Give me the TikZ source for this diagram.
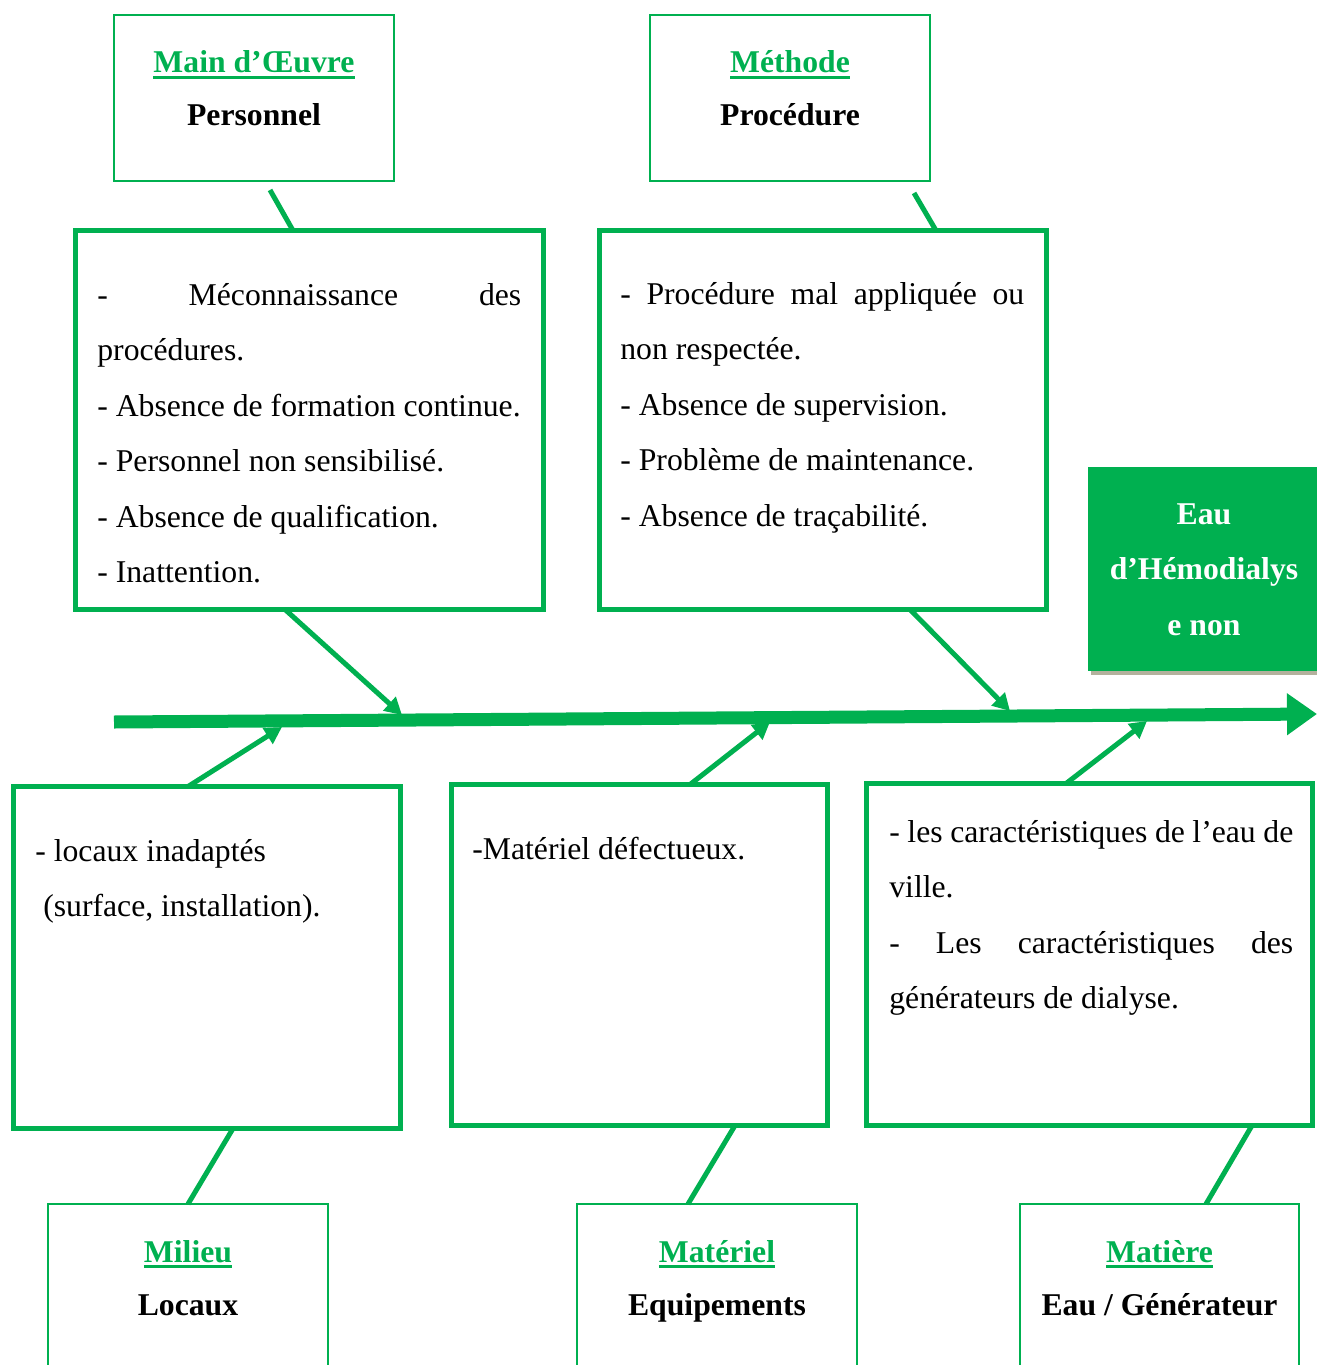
\documentclass[tikz,border=0pt]{standalone}
\usepackage{fontspec}
\setmainfont{Liberation Serif}
\usetikzlibrary{arrows.meta,calc}
\definecolor{gr}{HTML}{00B050}
\definecolor{shd}{HTML}{B3B19D}
\hyphenpenalty=10000
\exhyphenpenalty=10000
\newcommand\fs{\fontsize{18.04pt}{31.6pt}\selectfont}
\newcommand\gul[1]{\setbox0\hbox{#1}\rlap{\rule[-3.4pt]{\wd0}{1.5pt}}\box0}
\newcommand\jline[2]{\makebox[#1][s]{#2}}
\begin{document}
\begin{tikzpicture}[x=0.02cm,y=-0.02cm,
  catbox/.style={draw=gr,line width=1.1pt,inner sep=0,outer sep=0,minimum width=5.6cm,minimum height=3.32cm},
  causebox/.style={draw=gr,line width=2.85pt,inner sep=0,outer sep=0},
  ttl/.style={anchor=base,inner sep=0,text=gr,font=\fs\bfseries},
  sub/.style={anchor=base,inner sep=0,font=\fs\bfseries},
  body/.style={anchor=base west,inner sep=0,font=\fs,align=flush left,text width=10cm},
  conn/.style={draw=gr,line width=2.85pt},
  arr/.style={conn,-{Triangle[length=0.34cm,width=0.36cm]}}]
\useasboundingbox (0,0) rectangle (1317,1365);
\clip (0,0) rectangle (1317,1365);

% category boxes (top)
\node[catbox] (mo) at (254,98) {};
\node[catbox] (me) at (790,98) {};
\node[ttl] (mot) at (254,73) {\gul{Main d’Œuvre}};
\node[sub] (mos) at (254,126) {Personnel};
\node[ttl] (met) at (790,73) {\gul{Méthode}};
\node[sub] (mes) at (790,126) {Procédure};

% cause boxes
\node[causebox,minimum width=9.36cm,minimum height=7.58cm] (c1) at (309.5,420) {};
\node[causebox,minimum width=8.94cm,minimum height=7.58cm] (c2) at (823,420) {};
\node[causebox,minimum width=7.74cm,minimum height=6.84cm] (c3) at (207,957.5) {};
\node[causebox,minimum width=7.52cm,minimum height=6.82cm] (c4) at (639.5,955) {};
\node[causebox,minimum width=8.92cm,minimum height=6.84cm] (c5) at (1089.5,954.5) {};

\node[body] (tx1) at (97,305) {%
\jline{8.48cm}{- Méconnaissance des}\\
procédures.\\
- Absence de formation continue.\\
- Personnel non sensibilisé.\\
- Absence de qualification.\\
- Inattention.};
\node[body] (tx2) at (620,304) {%
\jline{8.08cm}{- Procédure mal appliquée ou}\\
non respectée.\\
- Absence de supervision.\\
- Problème de maintenance.\\
- Absence de traçabilité.};
\node[body] (tx3) at (35,861) {%
- locaux inadaptés\\
\hspace*{0.25em}(surface, installation).};
\node[body] (tx4) at (472,859) {-Matériel défectueux.};
\node[body] (tx5) at (889,842) {%
\jline{8.08cm}{- les caractéristiques de l’eau de}\\
ville.\\
\jline{8.08cm}{- Les caractéristiques des}\\
générateurs de dialyse.};

% effect box
\fill[shd] (1091,471) rectangle (1320,675);
\node[fill=gr,inner sep=0,outer sep=0,minimum width=4.58cm,minimum height=4.08cm] (ef) at (1202.5,569) {};
\node[anchor=base,inner sep=0,text width=4.5cm,align=flush center,text=white,font=\fs\bfseries] (eft) at (1204,524) {Eau\\d’Hémodialys\\e non};

% spine
\coordinate (sp0) at (114,722);
\coordinate (sp1) at (1317,714);
\draw[gr,line width=7.4pt,-{Triangle[length=0.6cm,width=0.8cm]}] (sp0) -- (sp1);

% arrows to spine
\coordinate (a1) at (402,715);
\coordinate (a2) at (1010,711);
\coordinate (a3) at (282,727);
\coordinate (a4) at (770,722);
\coordinate (a5) at (1147,721);
\draw[arr] ($(c1.south)+(-24.5,0)$) -- (a1);
\draw[arr] ($(c2.south)+(87,0)$) -- (a2);
\draw[arr] ($(c3.north)+(-19,0)$) -- (a3);
\draw[arr] ($(c4.north)+(50.5,0)$) -- (a4);
\draw[arr] ($(c5.north)+(-23.5,0)$) -- (a5);

% links category -> cause boxes
\draw[conn] ($(mo.south)+(16,9)$) -- ($(c1.north)+(-16.5,0)$);
\draw[conn] ($(me.south)+(124,12)$) -- ($(c2.north)+(113,0)$);

% category boxes (bottom)
\node[catbox] (mi) at (188,1287) {};
\node[catbox] (ma) at (717,1287) {};
\node[catbox,minimum width=5.58cm] (mt) at (1159.5,1287) {};
\node[ttl] (mit) at (188,1262) {\gul{Milieu}};
\node[sub] (mis) at (188,1315) {Locaux};
\node[ttl] (mat) at (717,1262) {\gul{Matériel}};
\node[sub] (mas) at (717,1315) {Equipements};
\node[ttl] (mtt) at (1159.5,1262) {\gul{Matière}};
\node[sub] (mts) at (1159.5,1315) {Eau / Générateur};

\draw[conn] ($(c3.south)+(26,0)$) -- (mi.north);
\draw[conn] ($(c4.south)+(95.5,0)$) -- ($(ma.north)+(-29,0)$);
\draw[conn] ($(c5.south)+(162.5,0)$) -- ($(mt.north)+(46.5,0)$);
\end{tikzpicture}
\end{document}
